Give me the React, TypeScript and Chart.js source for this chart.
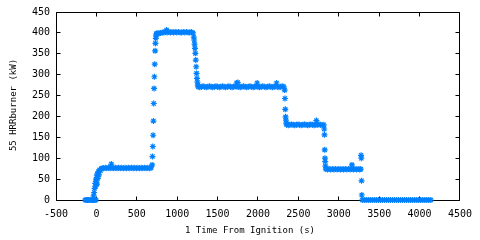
import React, { useEffect, useRef } from "react";
import { Chart, registerables } from "chart.js";

Chart.register(...registerables);

// ---- data (time from ignition in s, HRR in kW) ----
const T_PRE = [-140, -125, -110, -95, -80, -65, -50, -35, -20, -5];
const Q_PRE = [0, 0, 0, 0, 0, 0, 0, 0, 0, 0];

const T_IGN = [-35, -28, -22, -15, -10, -5, 0, 5, 8, 12, 18, 25, 32, 40, 50, 60, 75];
const Q_IGN = [10, 18, 28, 40, 33, 50, 45, 58, 38, 62, 52, 68, 60, 72, 70, 75, 76];

const T_75 = [90, 110, 130, 150, 170, 185, 195, 215, 235, 255, 275, 295, 315, 335, 355, 375, 395, 415, 435, 455, 475, 495, 515, 535, 555, 575, 595, 615, 635, 655, 675, 690];
const Q_75 = [76, 77, 76, 77, 76, 86, 77, 76, 77, 76, 77, 76, 77, 76, 77, 76, 77, 76, 77, 76, 77, 76, 77, 76, 77, 76, 77, 76, 77, 76, 77, 84];

const T_UP = [694, 698, 702, 706, 710, 714, 718, 722, 727, 731, 735, 739, 743, 748];
const Q_UP = [104, 128, 155, 189, 231, 267, 295, 325, 357, 375, 387, 393, 397, 399];

const T_400 = [755, 775, 795, 815, 835, 855, 869, 875, 895, 915, 935, 955, 975, 995, 1015, 1035, 1055, 1075, 1095, 1115, 1135, 1155, 1175, 1195];
const Q_400 = [398, 399, 400, 401, 401, 402, 407, 401, 402, 401, 402, 401, 402, 401, 402, 401, 401, 402, 401, 402, 401, 401, 402, 400];

const T_DN1 = [1205, 1210, 1215, 1220, 1225, 1230, 1235, 1240, 1245, 1250, 1255];
const Q_DN1 = [390, 383, 373, 363, 351, 335, 319, 303, 291, 282, 275];

const T_270 = [1260, 1280, 1300, 1320, 1340, 1360, 1380, 1400, 1420, 1440, 1460, 1480, 1500, 1520, 1540, 1560, 1580, 1600, 1620, 1640, 1660, 1680, 1700, 1720, 1735, 1740, 1750, 1760, 1780, 1800, 1820, 1840, 1860, 1880, 1900, 1920, 1940, 1960, 1980, 1990, 2000, 2020, 2040, 2060, 2080, 2100, 2120, 2140, 2160, 2180, 2200, 2220, 2230, 2240, 2260, 2280, 2300, 2320];
const Q_270 = [271, 270, 271, 272, 271, 270, 271, 272, 271, 270, 271, 272, 271, 270, 271, 272, 271, 270, 271, 272, 271, 270, 271, 272, 280, 271, 281, 271, 270, 271, 272, 271, 270, 271, 272, 271, 270, 271, 272, 280, 271, 270, 271, 272, 271, 270, 271, 272, 271, 270, 271, 272, 280, 271, 270, 271, 272, 271];

const T_DN2 = [2330, 2334, 2338, 2342, 2346, 2350];
const Q_DN2 = [263, 243, 217, 199, 191, 184];

const T_180 = [2355, 2375, 2395, 2415, 2435, 2455, 2475, 2495, 2515, 2535, 2555, 2575, 2595, 2615, 2635, 2655, 2675, 2695, 2715, 2723, 2735, 2755, 2775, 2795, 2815];
const Q_180 = [180, 179, 180, 181, 180, 179, 180, 181, 180, 179, 180, 181, 180, 179, 180, 181, 180, 179, 180, 190, 180, 181, 180, 179, 180];

const T_DN3 = [2820, 2823, 2826, 2829, 2832, 2835];
const Q_DN3 = [170, 156, 120, 100, 92, 81];

const T_73 = [2840, 2860, 2880, 2900, 2920, 2940, 2960, 2980, 3000, 3020, 3040, 3060, 3080, 3100, 3120, 3140, 3160, 3163, 3180, 3200, 3220, 3240, 3260, 3272];
const Q_73 = [74, 73, 74, 73, 74, 73, 74, 73, 74, 73, 74, 73, 74, 73, 74, 73, 74, 84, 73, 74, 73, 74, 73, 74];

const T_END = [3276, 3279, 3282, 3285];
const Q_END = [107, 100, 46, 12];

const T_OFF = [3290, 3315, 3340, 3365, 3390, 3415, 3440, 3465, 3490, 3515, 3540, 3565, 3590, 3615, 3640, 3665, 3690, 3715, 3740, 3765, 3790, 3815, 3840, 3865, 3890, 3915, 3940, 3965, 3990, 4015, 4040, 4065, 4090, 4115, 4140];
const Q_OFF = [0, 0, 0, 0, 0, 0, 0, 0, 0, 0, 0, 0, 0, 0, 0, 0, 0, 0, 0, 0, 0, 0, 0, 0, 0, 0, 0, 0, 0, 0, 0, 0, 0, 0, 0];

const TIME_S = [...T_PRE, ...T_IGN, ...T_75, ...T_UP, ...T_400, ...T_DN1, ...T_270, ...T_DN2, ...T_180, ...T_DN3, ...T_73, ...T_END, ...T_OFF];
const HRR_KW = [...Q_PRE, ...Q_IGN, ...Q_75, ...Q_UP, ...Q_400, ...Q_DN1, ...Q_270, ...Q_DN2, ...Q_180, ...Q_DN3, ...Q_73, ...Q_END, ...Q_OFF];

const X_TICKS = [-500, 0, 500, 1000, 1500, 2000, 2500, 3000, 3500, 4000, 4500];
const Y_TICKS = [0, 50, 100, 150, 200, 250, 300, 350, 400, 450];

const X_TITLE = "1 Time From Ignition (s)";
const Y_TITLE = "55 HRRburner (kW)";

const COLOR = "rgb(0,128,255)";
const FONT_FAMILY = '"DejaVu Sans Mono", monospace';

export default function App() {
  const ref = useRef<HTMLCanvasElement>(null);

  useEffect(() => {
    const canvas = ref.current;
    if (!canvas) return;
    const points = TIME_S.map((t, i) => ({ x: t, y: HRR_KW[i] }));

    const framePlugin = {
      id: "frame",
      beforeDatasetsDraw(chart: any) {
        const { ctx, chartArea: a, scales } = chart;
        const L = Math.floor(a.left) + 0.5;
        const R = Math.floor(a.right) + 0.5;
        const T = Math.floor(a.top) + 0.5;
        const B = Math.floor(a.bottom) + 0.5;
        const TL = 4;
        ctx.save();
        ctx.strokeStyle = "#000";
        ctx.lineWidth = 1;
        ctx.beginPath();
        ctx.rect(L, T, R - L, B - T);
        X_TICKS.forEach((v) => {
          const px = Math.floor(scales.x.getPixelForValue(v)) + 0.5;
          ctx.moveTo(px, B);
          ctx.lineTo(px, B - TL);
          ctx.moveTo(px, T);
          ctx.lineTo(px, T + TL);
        });
        Y_TICKS.forEach((v) => {
          const py = Math.floor(scales.y.getPixelForValue(v)) + 0.5;
          ctx.moveTo(L, py);
          ctx.lineTo(L + TL, py);
          ctx.moveTo(R, py);
          ctx.lineTo(R - TL, py);
        });
        ctx.stroke();
        ctx.restore();
      },
      afterDraw(chart: any) {
        const { ctx } = chart;
        ctx.save();
        ctx.fillStyle = "#000";
        ctx.font = `9px ${FONT_FAMILY}`;
        ctx.textAlign = "center";
        ctx.textBaseline = "middle";
        ctx.fillText(X_TITLE, 250, 231);
        ctx.translate(14, 105);
        ctx.rotate(-Math.PI / 2);
        ctx.fillText(Y_TITLE, 0, 0);
        ctx.restore();
      },
    };

    const tickFont = { family: FONT_FAMILY, size: 10 };

    const chart = new Chart(canvas, {
      type: "scatter",
      data: {
        datasets: [
          {
            data: points,
            pointStyle: "star",
            pointRadius: 3,
            pointBorderWidth: 1.2,
            borderColor: COLOR,
            backgroundColor: COLOR,
            showLine: false,
            clip: false,
          } as any,
        ],
      },
      options: {
        animation: false,
        responsive: false,
        devicePixelRatio: 1,
        events: [],
        layout: { padding: { top: 12, right: 19, left: 0, bottom: 0 } },
        plugins: { legend: { display: false }, tooltip: { enabled: false } },
        scales: {
          x: {
            type: "linear",
            min: -500,
            max: 4500,
            afterBuildTicks: (s: any) => {
              s.ticks = X_TICKS.map((v) => ({ value: v }));
            },
            afterFit: (s: any) => {
              s.height = 40;
            },
            grid: { display: false, drawTicks: false },
            border: { display: false },
            ticks: {
              color: "#000",
              font: tickFont,
              padding: 8,
              maxRotation: 0,
              autoSkip: false,
              callback: (v: any) => String(v),
            },
          },
          y: {
            type: "linear",
            min: 0,
            max: 450,
            afterBuildTicks: (s: any) => {
              s.ticks = Y_TICKS.map((v) => ({ value: v }));
            },
            afterFit: (s: any) => {
              s.width = 56;
            },
            grid: { display: false, drawTicks: false },
            border: { display: false },
            ticks: {
              color: "#000",
              font: tickFont,
              padding: 6,
              autoSkip: false,
              callback: (v: any) => String(v),
            },
          },
        },
      },
      plugins: [framePlugin],
    });

    return () => chart.destroy();
  }, []);

  return (
    <div style={{ position: "fixed", left: 0, top: 0, width: 480, height: 240, background: "#fff" }}>
      <canvas ref={ref} width={480} height={240} style={{ display: "block", width: 480, height: 240 }} />
    </div>
  );
}
